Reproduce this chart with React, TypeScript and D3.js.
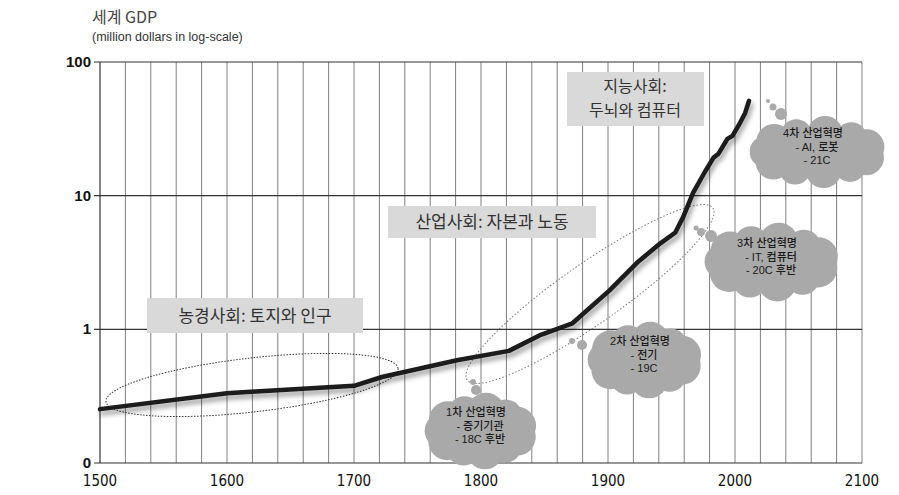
import React from "react";
import * as d3 from "d3";

// 세계 GDP (million dollars, log scale)
const years = [1500, 1600, 1700, 1722, 1781, 1822, 1846, 1872, 1901, 1923, 1941, 1953, 1959, 1967, 1976, 1983, 1987, 1994, 1998, 2004, 2008, 2011];
const gdp = [0.253, 0.333, 0.378, 0.44, 0.587, 0.69, 0.9, 1.11, 1.95, 3.16, 4.38, 5.3, 6.86, 10.5, 14.9, 19.2, 20.6, 26.6, 28.0, 35.1, 41.6, 51.2];

const yTicks = [0.1, 1, 10, 100];
const yTickLabels = ["0", "1", "10", "100"];
const xTicks = [1500, 1600, 1700, 1800, 1900, 2000, 2100];

const clouds = [
  { lines: ["1차 산업혁명", "- 증기기관", "- 18C 후반"], cx: 480, cy: 431, w: 108, h: 70, bubbles: [[473, 382, 3], [476, 390, 5]] },
  { lines: ["2차 산업혁명", "- 전기", "- 19C"], cx: 644, cy: 360, w: 110, h: 70, bubbles: [[572, 341, 3], [582, 345, 5]] },
  { lines: ["3차 산업혁명", "- IT, 컴퓨터", "- 20C 후반"], cx: 771, cy: 262, w: 130, h: 72, bubbles: [[696, 228, 2.5], [701, 232, 4], [711, 236, 6]] },
  { lines: ["4차 산업혁명", "- AI, 로봇", "- 21C"], cx: 817, cy: 152, w: 132, h: 66, bubbles: [[768, 101, 2], [773, 107, 3.5], [781, 114, 6]] },
];

const width = 899;
const height = 495;
const margin = { top: 62, right: 37, bottom: 32, left: 100 };

const kr = "'Noto Sans CJK KR', 'Noto Sans', sans-serif";
const krSmall = "'Liberation Sans', 'Noto Sans CJK KR', sans-serif";

// cloud made of an ellipse core plus round lobes on its rim
const Cloud = ({ c }) => {
  const rx = c.w / 2 - c.h * 0.22;
  const ry = c.h / 2 - c.h * 0.22;
  const n = 11;
  const lobes = d3.range(n).map((i) => {
    const a = (i / n) * Math.PI * 2 + 0.3;
    const r = c.h * (i % 2 ? 0.24 : 0.27);
    return [c.cx + rx * Math.cos(a), c.cy + ry * Math.sin(a), r];
  });
  return (
    <g fill="#a9a9a9">
      <ellipse cx={c.cx} cy={c.cy} rx={rx + 4} ry={ry + 4} />
      {lobes.map(([x, y, r], i) => (
        <circle key={i} cx={x} cy={y} r={r} />
      ))}
      {c.bubbles.map(([x, y, r], i) => (
        <circle key={"b" + i} cx={x} cy={y} r={r} />
      ))}
      {c.lines.map((t, i) => (
        <text
          key={"t" + i}
          x={c.cx + (i === 0 ? -4 : 0)}
          y={c.cy - 15 + i * 13.5}
          textAnchor="middle"
          fontFamily={krSmall}
          fontSize={11}
          fontWeight={500}
          fill="#1a1a1a"
        >
          {t}
        </text>
      ))}
    </g>
  );
};

export default function App() {
  const x = d3.scaleLinear().domain([1500, 2100]).range([margin.left, width - margin.right]);
  const y = d3.scaleLog().domain([0.1, 100]).range([height - margin.bottom, margin.top]);

  const line = d3
    .line<number>()
    .x((d, i) => x(years[i]))
    .y((d) => y(d))
    .curve(d3.curveLinear);

  const gridYears = d3.range(1520, 2101, 20);
  const x0 = x(1500);
  const x1 = x(2100);

  return (
    <svg
      width={width}
      height={height}
      style={{ position: "absolute", left: 0, top: 0, background: "#fff" }}
    >
      <defs>
        <filter id="shadow" x="-10%" y="-10%" width="130%" height="130%">
          <feDropShadow dx="2" dy="4" stdDeviation="2.4" floodColor="#000" floodOpacity="0.4" />
        </filter>
      </defs>

      {/* title */}
      <text x={92} y={23} fontFamily={kr} fontSize={16} fill="#444">
        세계 GDP
      </text>
      <text x={92} y={41} fontFamily="'Liberation Sans', Arial, sans-serif" fontSize={12.5} fill="#333">
        (million dollars in log-scale)
      </text>

      {/* vertical grid */}
      {gridYears.map((yr) => (
        <line key={yr} x1={x(yr)} x2={x(yr)} y1={y(100)} y2={y(0.1)} stroke="#808080" strokeWidth={1} />
      ))}

      {/* horizontal grid + ticks */}
      {yTicks.map((v, i) => (
        <g key={v}>
          <line x1={x0 - 6} x2={x1} y1={y(v)} y2={y(v)} stroke="#333" strokeWidth={1.2} />
          <text
            x={x0 - 9}
            y={y(v) + 5}
            textAnchor="end"
            fontFamily="'Liberation Sans', Arial, sans-serif"
            fontSize={15}
            fontWeight={600}
            fill="#111"
          >
            {yTickLabels[i]}
          </text>
        </g>
      ))}
      <line x1={x0} x2={x0} y1={y(100)} y2={y(0.1)} stroke="#333" strokeWidth={1.2} />

      {xTicks.map((yr) => (
        <text
          key={yr}
          x={x(yr)}
          y={486}
          textAnchor="middle"
          fontFamily="'Liberation Sans Narrow', 'DejaVu Sans Condensed', sans-serif"
          fontSize={15}
          fill="#111"
        >
          {yr}
        </text>
      ))}

      {/* society labels */}
      <rect x={567} y={72} width={137} height={54} fill="#d9d9d9" />
      <text x={635} y={92} textAnchor="middle" fontFamily={kr} fontSize={16} fill="#333">
        지능사회:
      </text>
      <text x={635} y={116} textAnchor="middle" fontFamily={kr} fontSize={16} fill="#333">
        두뇌와 컴퓨터
      </text>

      <rect x={388} y={206} width={208} height={32} fill="#d9d9d9" />
      <text x={492} y={228} textAnchor="middle" fontFamily={kr} fontSize={17} fill="#333">
        산업사회: 자본과 노동
      </text>

      <rect x={147} y={298} width={216} height={35} fill="#d9d9d9" />
      <text x={255} y={322} textAnchor="middle" fontFamily={kr} fontSize={17} fill="#333">
        농경사회: 토지와 인구
      </text>

      {/* dotted ellipses */}
      <ellipse
        cx={252}
        cy={385}
        rx={147}
        ry={27}
        transform="rotate(-6.5 252 385)"
        fill="none"
        stroke="#333"
        strokeWidth={1}
        strokeDasharray="1.5 1.5"
      />
      <ellipse
        cx={590}
        cy={294}
        rx={150}
        ry={30}
        transform="rotate(-35 590 294)"
        fill="none"
        stroke="#777"
        strokeWidth={1}
        strokeDasharray="1.5 2"
      />

      {/* clouds */}
      {clouds.map((c, i) => (
        <Cloud key={i} c={c} />
      ))}

      {/* GDP line */}
      <path
        d={line(gdp)}
        fill="none"
        stroke="#1a1a1a"
        strokeWidth={4.5}
        strokeLinejoin="round"
        strokeLinecap="round"
        filter="url(#shadow)"
      />
    </svg>
  );
}
